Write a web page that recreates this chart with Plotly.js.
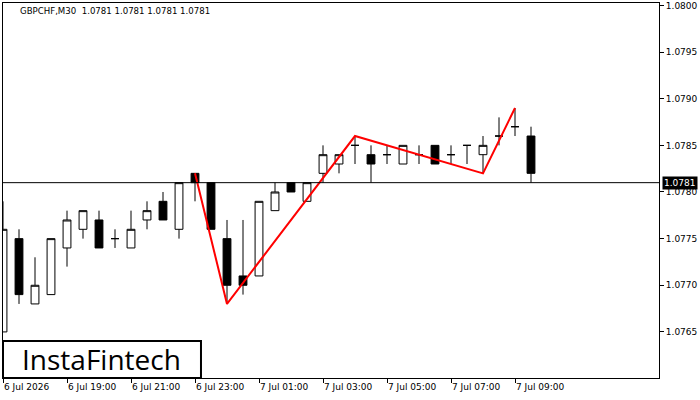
<!DOCTYPE html>
<html>
<head>
<meta charset="utf-8">
<script src="https://cdn.plot.ly/plotly-3.0.1.min.js"></script>
<style>html,body{margin:0;padding:0;background:#fff;}#chart{width:700px;height:400px;}</style>
</head>
<body>
<div id="chart"></div>
<script>
// Bar index (M30 bars, 6 Jul 17:00 ... 7 Jul 09:30)
var barIndex = [0,1,2,3,4,5,6,7,8,9,10,11,12,13,14,15,16,17,18,19,20,21,22,23,24,25,26,27,28,29,30,31,32,33];
var opens  = [1.0765,1.0775,1.0768,1.0769,1.0774,1.0776,1.0777,1.0775,1.0774,1.0777,1.0779,1.0776,1.0782,1.0781,1.0775,1.0771,1.0771,1.0778,1.0781,1.0779,1.0782,1.0783,1.0785,1.0784,1.0784,1.0783,1.0784,1.0785,1.0784,1.0785,1.0784,1.0786,1.0787,1.0786];
var highs  = [1.0779,1.0776,1.0773,1.0775,1.0778,1.0778,1.0778,1.0776,1.0778,1.0779,1.0780,1.0781,1.0782,1.0781,1.0777,1.0777,1.0779,1.0781,1.0781,1.0781,1.0785,1.0784,1.0786,1.0785,1.0785,1.0785,1.0785,1.0785,1.0785,1.0785,1.0786,1.0788,1.0789,1.0787];
var lows   = [1.0765,1.0768,1.0768,1.0769,1.0772,1.0775,1.0774,1.0774,1.0774,1.0776,1.0777,1.0775,1.0779,1.0776,1.0768,1.0769,1.0771,1.0778,1.0780,1.0779,1.0781,1.0782,1.0783,1.0781,1.0783,1.0783,1.0783,1.0783,1.0783,1.0783,1.0782,1.0785,1.0786,1.0781];
var closes = [1.0776,1.0769,1.0770,1.0775,1.0777,1.0778,1.0774,1.0775,1.0776,1.0778,1.0777,1.0781,1.0781,1.0776,1.0770,1.0770,1.0779,1.0780,1.0780,1.0781,1.0784,1.0784,1.0785,1.0783,1.0784,1.0785,1.0784,1.0783,1.0784,1.0785,1.0785,1.0786,1.0787,1.0782];

// Pattern zigzag (red)
var patternX = [12,14,22,30,32];
var patternY = [1.0782,1.0768,1.0786,1.0782,1.0789];

// Current price
var currentPrice = 1.0781;

// X axis labels
var xTickVals = [0,4,8,12,16,20,24,28,32];
var xTickText = ["6 Jul 2026","6 Jul 19:00","6 Jul 21:00","6 Jul 23:00","7 Jul 01:00","7 Jul 03:00","7 Jul 05:00","7 Jul 07:00","7 Jul 09:00"];

// Y axis labels
var yTickVals = [1.0765,1.0770,1.0775,1.0780,1.0785,1.0790,1.0795,1.0800];
var yTickText = ["1.0765","1.0770","1.0775","1.0780","1.0785","1.0790","1.0795","1.0800"];

var titleText = "GBPCHF,M30  1.0781 1.0781 1.0781 1.0781";
var logoText = "InstaFintech";

var font = "DejaVu Sans, Tahoma, sans-serif";

var traces = [
  {
    type: "candlestick",
    x: barIndex, open: opens, high: highs, low: lows, close: closes,
    increasing: {line: {color: "#000", width: 1}, fillcolor: "#fff"},
    decreasing: {line: {color: "#000", width: 1}, fillcolor: "#000"},
    whiskerwidth: 0,
    hoverinfo: "skip",
    showlegend: false
  },
  {
    type: "scatter", mode: "lines",
    x: patternX, y: patternY,
    line: {color: "#ff0000", width: 2},
    hoverinfo: "skip", showlegend: false
  }
];

var layout = {
  width: 700, height: 400,
  margin: {l: 3, r: 41, t: 3, b: 22, pad: 0},
  paper_bgcolor: "#fff", plot_bgcolor: "#fff",
  showlegend: false,
  hovermode: false,
  font: {family: font, size: 9, color: "#000"},
  xaxis: {
    range: [0, 41],
    rangeslider: {visible: false},
    showgrid: false, zeroline: false,
    showline: true, linecolor: "#000", linewidth: 1, mirror: true,
    ticks: "outside", ticklen: 4, tickcolor: "#000", tickwidth: 1,
    tickvals: xTickVals, ticktext: xTickText,
    ticklabelposition: "outside right",
    tickfont: {family: font, size: 9, color: "#000"},
    fixedrange: true
  },
  yaxis: {
    side: "right",
    range: [1.076006, 1.080026],
    showgrid: false, zeroline: false,
    showline: true, linecolor: "#000", linewidth: 1, mirror: true,
    ticks: "outside", ticklen: 4, tickcolor: "#000", tickwidth: 1,
    tickvals: yTickVals, ticktext: yTickText,
    tickfont: {family: font, size: 9, color: "#000"},
    fixedrange: true
  },
  shapes: [
    {type: "line", xref: "paper", x0: 0, x1: 1, yref: "y", y0: currentPrice, y1: currentPrice,
     line: {color: "#000", width: 1}},
    {type: "rect", xref: "paper", yref: "paper", x0: 0, x1: 0.3018, y0: 0, y1: 0.0987,
     line: {color: "#000", width: 2}, fillcolor: "#fff", layer: "above"}
  ],
  annotations: [
    {xref: "paper", yref: "paper", x: 0.023, y: 0.979, xanchor: "left", yanchor: "middle",
     text: titleText, showarrow: false, font: {family: font, size: 8.6, color: "#000"}},
    {xref: "paper", yref: "y", x: 1, y: currentPrice, xanchor: "left", yanchor: "middle", xshift: 3,
     text: currentPrice.toFixed(4), showarrow: false, bgcolor: "#000", borderpad: 1,
     font: {family: font, size: 9, color: "#fff"}},
    {xref: "paper", yref: "paper", x: 0.1509, y: 0.0494, xanchor: "center", yanchor: "middle",
     text: logoText, showarrow: false, font: {family: "Open Sans, sans-serif", size: 28, color: "#000"}}
  ]
};

Plotly.newPlot("chart", traces, layout, {staticPlot: true, displayModeBar: false});
</script>
</body>
</html>
